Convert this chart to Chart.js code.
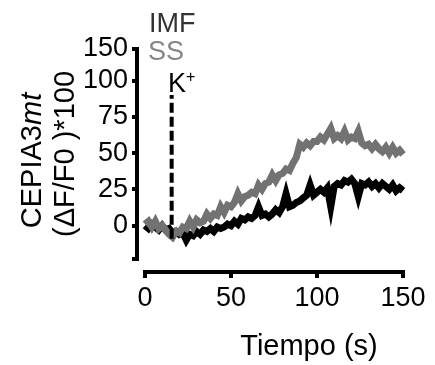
<!DOCTYPE html>
<html>
<head>
<meta charset="utf-8">
<script src="https://cdn.jsdelivr.net/npm/chart.js@4"></script>
<style>
  body { margin: 0; background: #fff; }
  #wrap { width: 435px; height: 365px; }
</style>
</head>
<body>
<div id="wrap"><canvas id="chart" width="435" height="365"></canvas></div>
<script>
// tiempo en segundos
const tiempo = [0, 2, 4, 6, 8, 10, 12, 14, 16, 18, 20, 22, 24, 26, 28, 30, 32, 34, 36, 38,
  40, 42, 44, 46, 48, 50, 52, 54, 56, 58, 60, 62, 64, 66, 68, 70, 72, 74, 76, 78,
  80, 82, 84, 86, 88, 90, 92, 94, 96, 98, 100, 102, 104, 106, 108, 110, 112, 114, 116, 118,
  120, 122, 124, 126, 128, 130, 132, 134, 136, 138, 140, 142, 144, 146, 148, 150, 152, 154];

// SS (gris)
const ssValues = [1, 3, -1, 3, -2, 0, -3, -6, -8, -4,
  -5, -1, -2, 3, -1, 4, 2, 3, 8, 5,
  8, 7, 13, 9, 14, 13, 16, 22, 17, 20,
  21, 23, 22, 28, 25, 29, 30, 35, 31, 35,
  36, 39, 38, 43, 47, 56, 54, 57, 55, 58,
  58, 61, 59, 63, 67, 60, 62, 60, 65, 59,
  61, 60, 65, 57, 55, 56, 53, 56, 53, 51,
  54, 50, 54, 50, 52, 49, 56, 47];

// IMF (negro)
const imfValues = [0, -2, 1, -1, -3, 0, -3, -2, -5, -4,
  -6, -5, -10, -6, -7, -4, -6, -3, -4, -2,
  -4, -1, -2, -1, 1, 0, 3, 1, 5, 4,
  6, 5, 7, 13, 7, 8, 6, 8, 11, 9,
  13, 22, 13, 14, 16, 17, 19, 21, 28, 21,
  23, 25, 23, 26, 13, 27, 29, 28, 31, 30,
  32, 29, 20, 29, 28, 30, 27, 29, 26, 29,
  27, 25, 28, 24, 26, 24, 25, 22];

const seriesLabels = ["IMF", "SS"];
const kTime = 15.5;          // momento del estimulo K+
const kLine = [-9, 90];      // extremos de la linea discontinua
const xTicks = [0, 50, 100, 150];
const yTicks = [-23, 0, 25, 50, 75, 100, 150];
const yMin = -23, yBreak = 100, yMax = 150;

const FONT = '"Liberation Sans", Arial, sans-serif';
const breakFrac = 0.85; // parte del eje usada por el tramo yMin..yBreak

// eje Y con dos tramos (0-100 lineal, 100-150 comprimido)
class SegmentScale extends Chart.LinearScale {
  getPixelForValue(value) {
    if (value === null || value === undefined || isNaN(value)) return NaN;
    const cut = this.bottom - (this.bottom - this.top) * breakFrac;
    if (value <= yBreak) {
      return this.bottom - (value - this.min) / (yBreak - this.min) * (this.bottom - cut);
    }
    return cut - (value - yBreak) / (this.max - yBreak) * (cut - this.top);
  }
  getValueForPixel(pixel) {
    const cut = this.bottom - (this.bottom - this.top) * breakFrac;
    if (pixel >= cut) {
      return this.min + (this.bottom - pixel) / (this.bottom - cut) * (yBreak - this.min);
    }
    return yBreak + (cut - pixel) / (cut - this.top) * (this.max - yBreak);
  }
}
SegmentScale.id = "segment";
SegmentScale.defaults = Chart.LinearScale.defaults;
Chart.register(SegmentScale);

// separa los ejes como en Prism
const axisGap = {
  id: "axisGap",
  afterLayout(chart) {
    const { x, y } = chart.scales;
    y.left -= 8; y.right -= 8;
    x.top += 13; x.bottom += 13;
  }
};

// titulos y leyenda de texto
const textLayer = {
  id: "textLayer",
  afterDraw(chart) {
    const ctx = chart.ctx;
    ctx.save();
    ctx.textBaseline = "alphabetic";
    ctx.fillStyle = "#000";

    ctx.font = "29px " + FONT;
    ctx.textAlign = "center";
    ctx.fillText("Tiempo (s)", 309, 355);

    // titulo Y, linea 1 con "mt" en cursiva
    ctx.save();
    ctx.translate(41, 160.5);
    ctx.rotate(-Math.PI / 2);
    ctx.textAlign = "left";
    ctx.font = "29px " + FONT;
    const a = "CEPIA3", b = "mt";
    const w1 = ctx.measureText(a).width;
    ctx.font = "italic 29px " + FONT;
    const w2 = ctx.measureText(b).width;
    const sx = -(w1 + w2) / 2;
    ctx.font = "29px " + FONT;
    ctx.fillText(a, sx, 0);
    ctx.font = "italic 29px " + FONT;
    ctx.fillText(b, sx + w1, 0);
    ctx.restore();

    ctx.save();
    ctx.translate(74, 154);
    ctx.rotate(-Math.PI / 2);
    ctx.textAlign = "center";
    ctx.font = "29px " + FONT;
    ctx.fillText("(\u0394F/F0 )*100", 0, 0);
    ctx.restore();

    // leyenda
    ctx.textAlign = "left";
    ctx.font = "27px " + FONT;
    ctx.fillStyle = "#333333";
    ctx.fillText(seriesLabels[0], 149, 32);
    ctx.fillStyle = "#858585";
    ctx.fillText(seriesLabels[1], 148, 60);
    ctx.fillStyle = "#000";
    ctx.fillText("K", 168, 92);
    const kw = ctx.measureText("K").width;
    ctx.font = "16px " + FONT;
    ctx.fillText("+", 168 + kw, 82);
    ctx.restore();
  }
};

const toPoints = (vals) => tiempo.map((t, i) => ({ x: t, y: vals[i] }));

new Chart(document.getElementById("chart"), {
  type: "line",
  data: {
    datasets: [
      {
        label: "K+",
        data: kLine.map(v => ({ x: kTime, y: v })),
        borderColor: "#000",
        borderWidth: 4,
        borderDash: [10, 4],
        pointRadius: 0,
        order: 0,
        clip: false
      },
      {
        label: seriesLabels[1],
        data: toPoints(ssValues),
        borderColor: "#727272",
        borderWidth: 7,
        pointRadius: 0,
        tension: 0,
        order: 1,
        clip: false
      },
      {
        label: seriesLabels[0],
        data: toPoints(imfValues),
        borderColor: "#000",
        borderWidth: 7,
        pointRadius: 0,
        tension: 0,
        order: 2,
        clip: false
      }
    ]
  },
  options: {
    responsive: false,
    animation: false,
    devicePixelRatio: 1,
    layout: { padding: { top: 49, right: 32, bottom: 0, left: 0 } },
    plugins: { legend: { display: false }, tooltip: { enabled: false } },
    scales: {
      x: {
        type: "linear",
        min: 0,
        max: 150,
        afterBuildTicks: s => { s.ticks = xTicks.map(v => ({ value: v })); },
        afterFit: s => { s.height = 106; },
        border: { color: "#000", width: 4 },
        grid: { drawOnChartArea: false, color: "#000", lineWidth: 4, tickLength: 6 },
        ticks: { autoSkip: false, maxRotation: 0, color: "#000", padding: 4, font: { family: FONT, size: 27 } }
      },
      y: {
        type: "segment",
        min: yMin,
        max: yMax,
        afterBuildTicks: s => { s.ticks = yTicks.map(v => ({ value: v })); },
        afterFit: s => { s.width = 145; },
        border: { color: "#000", width: 4 },
        grid: { drawOnChartArea: false, color: "#000", lineWidth: 4, tickLength: 5 },
        ticks: {
          autoSkip: false,
          color: "#000",
          padding: 4,
          font: { family: FONT, size: 27 },
          callback: v => (v === yMin ? "" : String(v))
        }
      }
    }
  },
  plugins: [axisGap, textLayer]
});
</script>
</body>
</html>
